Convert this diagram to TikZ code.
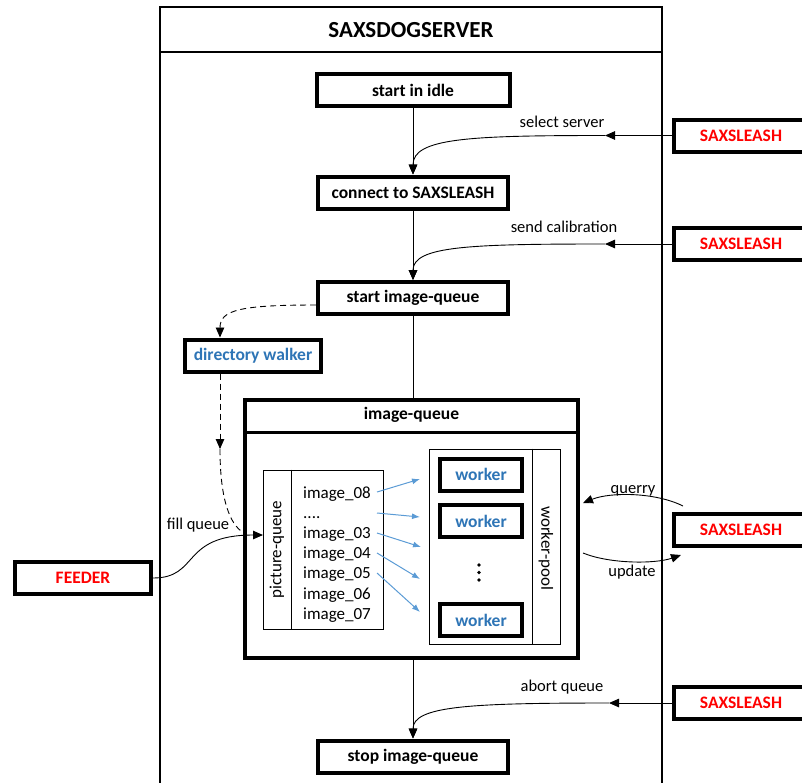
\documentclass[tikz,border=0pt]{standalone}
\usepackage{fontspec}
\setmainfont{Carlito}
\usetikzlibrary{arrows.meta,calc}
\definecolor{sred}{HTML}{FF0000}
\definecolor{sblue}{HTML}{2E75B6}
\definecolor{ablue}{HTML}{5B9BD5}
\begin{document}
\begin{tikzpicture}[x=1pt,y=-1pt,
  bx/.style={draw, line width=4pt, inner sep=0pt, minimum height=32pt, font=\bfseries\fontsize{17.5}{20}\selectfont, fill=white},
  lbl/.style={font=\fontsize{16.5}{19}\selectfont, inner sep=0pt},
  lst/.style={font=\fontsize{17}{20}\selectfont, inner sep=0pt, anchor=base west},
  arr/.style={-{Triangle[length=10pt,width=8.5pt]}, line width=0.9pt},
  thinl/.style={line width=0.9pt},
  dsh/.style={dash pattern=on 6pt off 4pt, line width=0.9pt},
  barr/.style={-{Latex[length=8pt,width=6pt]}, ablue, line width=1pt}]
\useasboundingbox (0,0) rectangle (802,782);
\clip (0,0) rectangle (802,782);
% server frame
\draw[line width=1.3pt] (160,795) -- (160,7) -- (662,7) -- (662,795);
\draw[line width=1.3pt] (160,52) -- (662,52);
\node[font=\bfseries\fontsize{23}{26}\selectfont, inner sep=0pt] (title) at (411,30) {SAXSDOGSERVER};
% main flow boxes
\node[bx, minimum width=193] (idle) at (413,90) {start in idle};
\node[bx, minimum width=190] (conn) at (413,192.5) {connect to SAXSLEASH};
\node[bx, minimum width=190] (startq) at (413,298) {start image-queue};
\node[bx, minimum width=136, text=sblue] (dw) at (253,355.5) {directory walker};
\node[bx, minimum width=190] (stop) at (413,756.5) {stop image-queue};
% external boxes
\node[bx, minimum width=134, text=sred] (sl1) at (741,135.5) {SAXSLEASH};
\node[bx, minimum width=134, text=sred] (sl2) at (741,244) {SAXSLEASH};
\node[bx, minimum width=134, text=sred] (sl3) at (741,529.5) {SAXSLEASH};
\node[bx, minimum width=134, text=sred] (sl4) at (741,703) {SAXSLEASH};
\node[bx, minimum width=136, text=sred] (feeder) at (83,578) {FEEDER};
% image-queue container
\node[draw, line width=4pt, minimum width=333, minimum height=258, inner sep=0pt] (iq) at (411.5,529) {};
\draw[line width=3pt] (iq.west |- 0,432) -- (iq.east |- 0,432);
\node[font=\bfseries\fontsize{17.5}{20}\selectfont, inner sep=0pt] (iqt) at (411.5,415) {image-queue};
% picture-queue
\node[draw, thinl, minimum width=120, minimum height=159, inner sep=0pt] (pq) at (323,549.5) {};
\draw[thinl] (pq.north -| 291,0) -- (pq.south -| 291,0);
\node[font=\fontsize{17}{20}\selectfont, inner sep=0pt, rotate=90] (pqt) at (277,549.5) {picture-queue};
\node[lst] (im8) at (303,498) {image\_08};
\node[lst] (imd) at (303,518.2) {....};
\node[lst] (im3) at (303,538.4) {image\_03};
\node[lst] (im4) at (303,558.6) {image\_04};
\node[lst] (im5) at (303,578.8) {image\_05};
\node[lst] (im6) at (303,599) {image\_06};
\node[lst] (im7) at (303,619.2) {image\_07};
% worker-pool
\node[draw, thinl, minimum width=131, minimum height=195, inner sep=0pt] (wp) at (494.5,546.5) {};
\draw[thinl] (wp.north -| 532,0) -- (wp.south -| 532,0);
\node[font=\fontsize{17}{20}\selectfont, inner sep=0pt, rotate=-90] (wpt) at (546,548) {worker-pool};
\node[bx, minimum width=82, text=sblue] (w1) at (481,474.5) {worker};
\node[bx, minimum width=82, text=sblue] (w2) at (481,521) {worker};
\node[bx, minimum width=82, text=sblue] (w3) at (481,620) {worker};
\fill (479,565) circle (1.9);
\fill (479,572.5) circle (1.9);
\fill (479,580) circle (1.9);
% blue arrows
\coordinate (a1s) at (377,492); \coordinate (a1e) at (420,479);
\coordinate (a2s) at (377,513); \coordinate (a2e) at (420,517);
\coordinate (a3s) at (377,533); \coordinate (a3e) at (421,547);
\coordinate (a4s) at (377,553); \coordinate (a4e) at (420,579);
\coordinate (a5s) at (377,573); \coordinate (a5e) at (420,612);
\draw[barr] (a1s) -- (a1e);
\draw[barr] (a2s) -- (a2e);
\draw[barr] (a3s) -- (a3e);
\draw[barr] (a4s) -- (a4e);
\draw[barr] (a5s) -- (a5e);
% main flow connectors
\draw[arr] (idle.south) -- (conn.north);
\draw[arr] (conn.south) -- (startq.north);
\draw[thinl] (startq.south) -- (startq.south |- iq.north);
\draw[arr] (stop.north |- iq.south) -- (stop.north);
% SAXSLEASH inputs
\coordinate (m1) at (605,135.5);
\draw[arr] (sl1.west) -- (m1);
\draw[arr] (m1) .. controls (470,135.5) and (413,138) .. (conn.north);
\node[lbl] (lsel) at (562,122) {select server};
\coordinate (m2) at (605,244);
\draw[arr] (sl2.west) -- (m2);
\draw[arr] (m2) .. controls (470,244) and (413,246) .. (startq.north);
\node[lbl] (lcal) at (564,227) {send calibration};
\coordinate (m4) at (609,703);
\draw[arr] (sl4.west) -- (m4);
\draw[arr] (m4) .. controls (470,703) and (413,706) .. (stop.north);
\node[lbl] (labt) at (562,687) {abort queue};
% querry / update
\coordinate (q1) at (683,506);
\coordinate (q2) at (583,503);
\draw[arr] (q1) .. controls (655,492) and (610,492) .. (q2);
\node[lbl] (lq) at (633,491) {querry};
\coordinate (u1) at (583,553);
\coordinate (u2) at (681,555);
\draw[arr] (u1) .. controls (610,564) and (655,564) .. (u2);
\node[lbl] (lu) at (632,572) {update};
% directory walker (dashed)
\coordinate (m5) at (220,449);
\draw[arr, dsh] ($(startq.west)+(0,7)$) .. controls (240,305) and (220,310) .. (dw.north -| m5);
\draw[arr, dsh] (dw.south -| m5) -- (m5);
\draw[dsh] (m5) .. controls (220,500) and (230,525) .. (244,533);
% feeder
\coordinate (pqin) at (263,535);
\draw[arr] (feeder.east) .. controls (200,578) and (180,535) .. (pqin);
\node[lbl] (lfill) at (198,525) {fill queue};
\end{tikzpicture}
\end{document}
